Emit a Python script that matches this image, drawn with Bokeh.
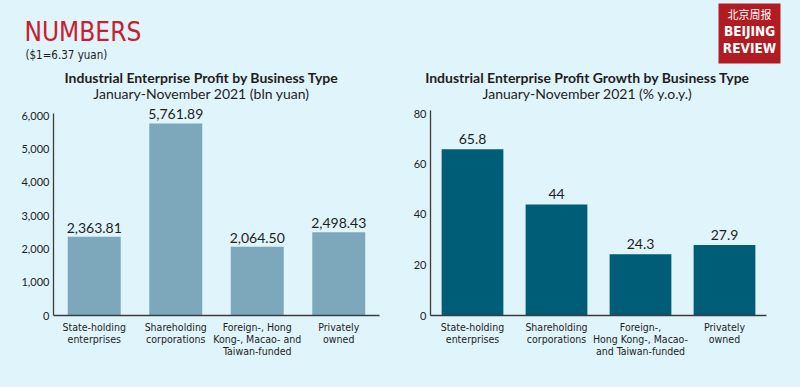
from bokeh.plotting import figure
from bokeh.models import Range1d, FactorRange, ColumnDataSource, FixedTicker
from bokeh.layouts import row, column
from bokeh.embed import file_html
from bokeh.resources import INLINE
from bokeh.core.properties import value

# ---- data ----
categories_left = ["State-holding\nenterprises", "Shareholding\ncorporations",
                   "Foreign-, Hong\nKong-, Macao- and\nTaiwan-funded", "Privately\nowned"]
categories_right = ["State-holding\nenterprises", "Shareholding\ncorporations",
                    "Foreign-,\nHong Kong-, Macao-\nand Taiwan-funded", "Privately\nowned"]
profit_bln_yuan = [2363.81, 5761.89, 2064.50, 2498.43]
profit_labels = ["2,363.81", "5,761.89", "2,064.50", "2,498.43"]
growth_pct = [65.8, 44, 24.3, 27.9]
growth_labels = ["65.8", "44", "24.3", "27.9"]
left_ticks = [0, 1000, 2000, 3000, 4000, 5000, 6000]
left_tick_labels = ["0", "1,000", "2,000", "3,000", "4,000", "5,000", "6,000"]
right_ticks = [0, 20, 40, 60, 80]
right_tick_labels = ["0", "20", "40", "60", "80"]

BG = "#E0F4FB"
LEFT_BAR = "#7DA8BC"
RIGHT_BAR = "#005D77"
AXIS = "#3C3C3C"
TXT = "#1E1E1E"
COND = "DejaVu Sans Condensed"
SANS = "Lato"

HEAD_H = 106

# ---- header strip (titles, logo) ----
hp = figure(width=800, height=HEAD_H, x_range=Range1d(0, 800), y_range=Range1d(HEAD_H, 0),
            output_backend="svg", toolbar_location=None, min_border=0)
hp.axis.visible = False
hp.grid.visible = False
hp.outline_line_color = None
hp.background_fill_color = BG
hp.border_fill_color = BG

hp.text(x=[24], y=[31], text=["NUMBERS"], text_font=value(COND), text_font_size="26px",
        text_color="#C8202E", text_baseline="middle", text_align="left")
hp.text(x=[25], y=[54], text=["($1=6.37 yuan)"], text_font=value(COND), text_font_size="11.5px",
        text_color=TXT, text_baseline="middle", text_align="left")
hp.text(x=[201, 587], y=[77, 77],
        text=["Industrial Enterprise Profit by Business Type",
              "Industrial Enterprise Profit Growth by Business Type"],
        text_font=value(SANS), text_font_style="bold", text_font_size="14px", text_color=TXT,
        text_baseline="middle", text_align="center")
hp.text(x=[201, 587], y=[93, 93],
        text=["January-November 2021 (bln yuan)", "January-November 2021 (% y.o.y.)"],
        text_font=value(SANS), text_font_size="14px", text_color=TXT,
        text_baseline="middle", text_align="center")
# logo
hp.quad(left=[718], right=[780], top=[3], bottom=[63], fill_color="#B01C22", line_color=None)
hp.text(x=[749], y=[13], text=["北京周报"], text_font=value("Noto Sans CJK SC"), text_font_size="11px",
        text_color="white", text_baseline="middle", text_align="center")
hp.text(x=[749, 749], y=[30, 47], text=["BEIJING", "REVIEW"], text_font=value(COND),
        text_font_style="bold", text_font_size="13.5px", text_color="white",
        text_baseline="middle", text_align="center")


def base_fig(cats, y_end, w, h, left, right, top, bottom):
    p = figure(width=w, height=h, x_range=FactorRange(*cats), y_range=Range1d(0, y_end),
               output_backend="svg", toolbar_location=None,
               min_border_left=left, min_border_right=right,
               min_border_top=top, min_border_bottom=bottom)
    p.background_fill_color = BG
    p.border_fill_color = BG
    p.outline_line_color = None
    p.grid.visible = False
    for ax in (p.xaxis[0], p.yaxis[0]):
        ax.axis_line_color = AXIS
        ax.axis_line_width = 1.3
        ax.major_tick_line_color = None
        ax.minor_tick_line_color = None
        ax.major_tick_out = 0
        ax.major_tick_in = 0
        ax.minor_tick_out = 0
        ax.major_label_text_color = TXT
    p.xaxis.major_label_text_font = COND
    p.xaxis.major_label_text_font_size = "10.5px"
    p.xaxis.major_label_text_line_height = 1.0
    p.xaxis.major_label_standoff = 5
    p.xaxis.major_label_orientation = "horizontal"
    p.yaxis.major_label_text_font = SANS
    p.yaxis.major_label_text_font_size = "11px"
    p.yaxis.major_label_standoff = 4
    return p


CH = 387 - HEAD_H  # chart height (281); frame from ref y 106 to 315

# ---- left chart ----
pl = base_fig(categories_left, 6270, 400, CH, 53, 21, 0, 72)
src_l = ColumnDataSource(dict(cat=categories_left, val=profit_bln_yuan, lab=profit_labels))
pl.vbar(x="cat", top="val", width=0.65, source=src_l, fill_color=LEFT_BAR, line_color=None)
pl.text(x="cat", y="val", text="lab", source=src_l, text_align="center", text_baseline="bottom",
        y_offset=-4, text_font=value(SANS), text_font_size="14px", text_color=TXT)
pl.yaxis.ticker = FixedTicker(ticks=left_ticks)
pl.yaxis.major_label_overrides = {t: s for t, s in zip(left_ticks, left_tick_labels)}
pl.yaxis.bounds = (0, 6070)

# ---- right chart ----
pr = base_fig(categories_right, 82.77, 400, CH, 30, 34, 0, 72)
src_r = ColumnDataSource(dict(cat=categories_right, val=growth_pct, lab=growth_labels))
pr.vbar(x="cat", top="val", width=0.735, source=src_r, fill_color=RIGHT_BAR, line_color=None)
pr.text(x="cat", y="val", text="lab", source=src_r, text_align="center", text_baseline="bottom",
        y_offset=-5, text_font=value(SANS), text_font_size="14px", text_color=TXT)
pr.yaxis.ticker = FixedTicker(ticks=right_ticks)
pr.yaxis.major_label_overrides = {t: s for t, s in zip(right_ticks, right_tick_labels)}
pr.yaxis.bounds = (0, 81.2)

layout = column(hp, row(pl, pr, styles={"background-color": BG}), styles={"background-color": BG})
open("out.html", "w").write(file_html(layout, INLINE))
